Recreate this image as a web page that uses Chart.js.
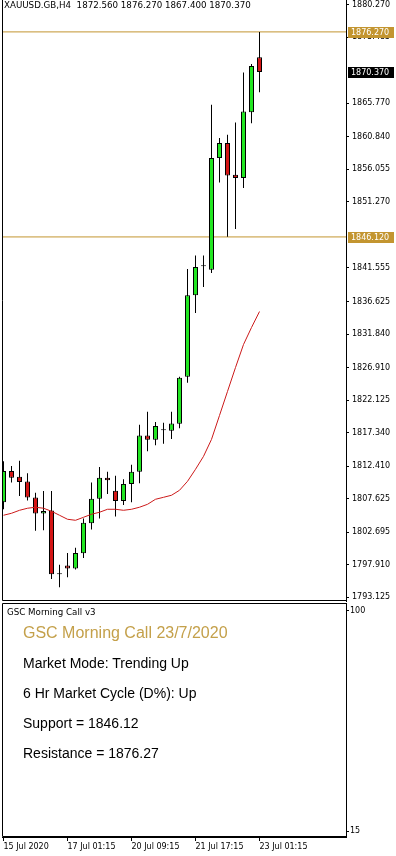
<!DOCTYPE html>
<html>
<head>
<meta charset="utf-8">
<script src="https://cdn.jsdelivr.net/npm/chart.js@4.4.1/dist/chart.umd.min.js"></script>
<style>
  html, body { margin: 0; padding: 0; background: #fff; }
  #wrap { position: relative; width: 396px; height: 856px; overflow: hidden; }
  canvas { position: absolute; left: 0; }
  #priceChart { top: 0; }
  #indChart { top: 602px; }
  .txt { position: absolute; white-space: pre; color: #000; }
  .small { font-family: "DejaVu Sans"; font-size: 8.7px; line-height: 11px; }
  .big { font-family: "Liberation Sans", Arial; font-size: 14px; line-height: 16px; left: 23px; }
</style>
</head>
<body>
<div id="wrap">
  <canvas id="priceChart" width="396" height="602"></canvas>
  <canvas id="indChart" width="396" height="254"></canvas>
  <div class="txt small" style="left:4px;top:0px">XAUUSD.GB,H4  1872.560 1876.270 1867.400 1870.370</div>
  <div class="txt small" style="left:7px;top:607px">GSC Morning Call v3</div>
  <div class="txt big" style="top:624px;font-size:16px;line-height:18px;color:#c4a04a">GSC Morning Call 23/7/2020</div>
  <div class="txt big" style="top:655px">Market Mode: Trending Up</div>
  <div class="txt big" style="top:685px">6 Hr Market Cycle (D%): Up</div>
  <div class="txt big" style="top:715px">Support = 1846.12</div>
  <div class="txt big" style="top:745px">Resistance = 1876.27</div>
</div>
<script>
// H4 candles, oldest first
const opens  = [1807.10, 1811.69, 1810.87, 1810.14, 1807.80, 1805.45, 1805.90, 1796.50, 1797.80, 1797.35, 1799.60,
                1804.00, 1807.60, 1810.70, 1808.80, 1807.30, 1809.80, 1811.60, 1816.90, 1816.30, 1817.70, 1817.60,
                1818.65, 1825.55, 1837.54, 1841.80, 1841.31, 1857.71, 1859.92, 1855.26, 1854.78, 1864.47, 1872.56];
const highs  = [1813.12, 1812.42, 1813.20, 1811.35, 1808.50, 1808.76, 1808.76, 1797.90, 1799.65, 1800.40, 1804.70,
                1810.00, 1812.30, 1811.60, 1811.00, 1810.50, 1812.60, 1818.50, 1820.40, 1818.90, 1818.80, 1820.40,
                1825.55, 1841.41, 1843.37, 1843.37, 1865.54, 1860.65, 1861.14, 1862.94, 1870.29, 1871.56, 1876.27];
const lows   = [1806.07, 1810.00, 1808.03, 1807.36, 1802.90, 1803.00, 1795.80, 1794.60, 1796.06, 1797.20, 1798.90,
                1803.10, 1804.70, 1808.30, 1805.00, 1806.70, 1807.10, 1809.90, 1814.60, 1815.50, 1815.70, 1816.40,
                1818.00, 1824.67, 1834.95, 1838.77, 1840.83, 1854.13, 1846.16, 1847.29, 1853.31, 1862.85, 1867.40];
const closes = [1811.69, 1810.72, 1810.08, 1807.80, 1805.45, 1805.80, 1796.50, 1796.50, 1797.35, 1799.65, 1804.10,
                1807.60, 1810.70, 1810.35, 1807.30, 1809.80, 1811.60, 1816.90, 1816.30, 1818.30, 1817.70, 1818.70,
                1825.41, 1837.54, 1841.71, 1841.80, 1857.71, 1859.92, 1855.16, 1854.78, 1864.56, 1871.27, 1870.37];
// moving average (red line)
const maValues = [1805.19, 1805.48, 1805.92, 1806.22, 1806.37, 1806.22, 1805.78, 1805.19, 1804.60, 1804.45, 1804.89,
                  1805.34, 1805.63, 1806.07, 1806.07, 1805.92, 1806.07, 1806.37, 1806.80, 1807.54, 1807.83, 1808.13,
                  1808.86, 1810.18, 1811.95, 1813.85, 1816.35, 1819.87, 1823.40, 1826.92, 1830.30, 1832.80, 1835.15];

const supportLevel = 1846.12;
const resistanceLevel = 1876.27;

const priceTicks = [1880.270, 1875.485, 1865.770, 1860.840, 1856.055, 1851.270, 1841.555, 1836.625, 1831.840,
                    1826.910, 1822.125, 1817.340, 1812.410, 1807.625, 1802.695, 1797.910, 1793.125];
const timeTickIdx = [0, 8, 16, 24, 32];
const timeLabels = ['15 Jul 2020', '17 Jul 01:15', '20 Jul 09:15', '21 Jul 17:15', '23 Jul 01:15'];
const indTicks = [15, 100];

const GREEN = '#22e622';
const RED = '#d41515';
const GOLD = '#c39530';
const smallFont = { family: 'DejaVu Sans', size: 8 };

// x range: 33 candles plus empty space on the right
const xMin = -0.1875, xMax = 42.8125;

const bodies = opens.map((o, i) => ({ x: i, y: [Math.min(o, closes[i]), Math.max(o, closes[i])] }));
const bodyColors = opens.map((o, i) => closes[i] > o ? GREEN : (closes[i] < o ? RED : '#000'));
const wicks = highs.map((h, i) => ({ x: i, y: [lows[i], h] }));
const maPoints = maValues.map((v, i) => ({ x: i, y: v }));
const levelLine = v => [{ x: xMin - 1, y: v }, { x: xMax + 1, y: v }];

// black frame around the plot area (main chart has no top edge)
const makeFrame = drawTop => ({
  id: 'frame',
  afterDraw(chart) {
    const { ctx, chartArea: a } = chart;
    const l = Math.round(a.left) + 0.5, r = Math.round(a.right) + 0.5;
    const t = Math.round(a.top) + 0.5, b = Math.round(a.bottom) - 0.5;
    ctx.save();
    ctx.strokeStyle = '#000';
    ctx.lineWidth = 1;
    ctx.beginPath();
    ctx.moveTo(l, drawTop ? t : 0);
    ctx.lineTo(l, b);
    ctx.lineTo(r, b);
    ctx.lineTo(r, drawTop ? t : 0);
    if (drawTop) ctx.lineTo(l, t);
    ctx.stroke();
    ctx.restore();
  }
});

// coloured price boxes on the right axis
const tagPlugin = {
  id: 'tags',
  afterDraw(chart) {
    const ctx = chart.ctx;
    const y = chart.scales.y;
    const tags = [
      { v: resistanceLevel, bg: GOLD },
      { v: closes[closes.length - 1], bg: '#000' },
      { v: supportLevel, bg: GOLD }
    ];
    ctx.save();
    tags.forEach(t => {
      const py = Math.round(y.getPixelForValue(t.v));
      ctx.fillStyle = t.bg;
      ctx.fillRect(y.left + 2, py - 5, 46, 11);
      ctx.fillStyle = '#fff';
      ctx.font = '8px "DejaVu Sans"';
      ctx.textBaseline = 'middle';
      ctx.fillText(t.v.toFixed(3), y.left + 5, py + 0.5);
    });
    ctx.restore();
  }
};

const priceChart = new Chart(document.getElementById('priceChart'), {
  type: 'bar',
  data: {
    datasets: [
      { type: 'line', data: maPoints, borderColor: '#cc1a1a', borderWidth: 1, pointRadius: 0, tension: 0, order: 0 },
      { type: 'bar', data: bodies, backgroundColor: bodyColors, borderColor: '#000', borderWidth: 1,
        borderSkipped: false, barThickness: 5, minBarLength: 1, grouped: false, inflateAmount: 0, order: 1 },
      { type: 'bar', data: wicks, backgroundColor: '#000', borderWidth: 0, barThickness: 1,
        grouped: false, inflateAmount: 0, order: 2 },
      { type: 'line', data: levelLine(resistanceLevel), borderColor: GOLD, borderWidth: 1, pointRadius: 0, order: 3 },
      { type: 'line', data: levelLine(supportLevel), borderColor: GOLD, borderWidth: 1, pointRadius: 0, order: 4 }
    ]
  },
  options: {
    responsive: false,
    animation: false,
    devicePixelRatio: 1,
    events: [],
    layout: { padding: { left: 2, top: 0, right: 0, bottom: 1 } },
    plugins: { legend: { display: false }, tooltip: { enabled: false } },
    scales: {
      x: { type: 'linear', min: xMin, max: xMax, offset: false, display: false },
      y: {
        position: 'right',
        min: 1792.58,
        max: 1880.961,
        afterBuildTicks: s => { s.ticks = priceTicks.map(v => ({ value: v })); },
        afterFit: s => { s.width = 50; s.paddingTop = 0; s.paddingBottom = 0; },
        ticks: { callback: v => v.toFixed(3), color: '#000', font: smallFont, padding: 3, autoSkip: false },
        grid: { drawOnChartArea: false, tickLength: 3, color: '#000' },
        border: { color: '#000' }
      }
    }
  },
  plugins: [makeFrame(false), tagPlugin]
});

const indChart = new Chart(document.getElementById('indChart'), {
  type: 'line',
  data: { datasets: [] },
  options: {
    responsive: false,
    animation: false,
    devicePixelRatio: 1,
    events: [],
    layout: { padding: { left: 2, top: 1, right: 0, bottom: 0 } },
    plugins: { legend: { display: false }, tooltip: { enabled: false } },
    scales: {
      x: {
        type: 'linear', min: xMin, max: xMax, offset: false,
        afterBuildTicks: s => { s.ticks = timeTickIdx.map(v => ({ value: v })); },
        afterFit: s => { s.height = 19; s.paddingLeft = 0; s.paddingRight = 0; },
        ticks: { callback: v => timeLabels[timeTickIdx.indexOf(v)], align: 'start', maxRotation: 0,
                 autoSkip: false, color: '#000', font: smallFont, padding: 1 },
        grid: { drawOnChartArea: false, tickLength: 4, color: '#000' },
        border: { color: '#000' }
      },
      y: {
        position: 'right',
        min: 12.69,
        max: 102.97,
        afterBuildTicks: s => { s.ticks = indTicks.map(v => ({ value: v })); },
        afterFit: s => { s.width = 50; s.paddingTop = 0; s.paddingBottom = 0; },
        ticks: { color: '#000', font: smallFont, padding: 1, autoSkip: false },
        grid: { drawOnChartArea: false, tickLength: 3, color: '#000' },
        border: { color: '#000' }
      }
    }
  },
  plugins: [makeFrame(true)]
});
</script>
</body>
</html>
